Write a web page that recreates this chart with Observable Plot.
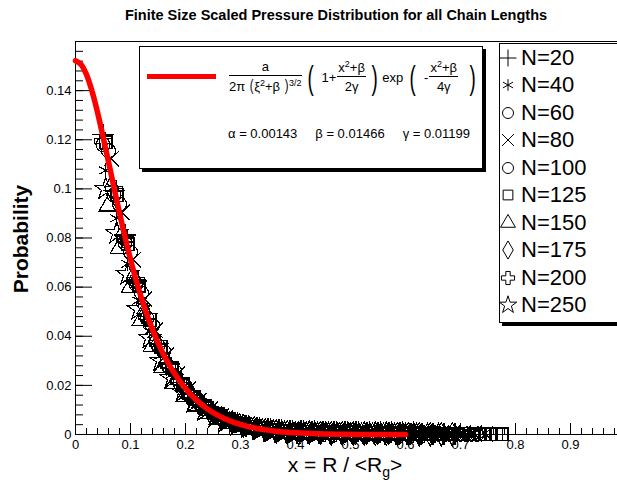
<!DOCTYPE html>
<html><head><meta charset="utf-8">
<script src="https://cdn.jsdelivr.net/npm/d3@7"></script>
<script src="https://cdn.jsdelivr.net/npm/@observablehq/plot@0.6"></script>
<style>
html,body{margin:0;padding:0;background:#fff;overflow:hidden}
#wrap{position:relative;width:617px;height:487px;overflow:hidden;font-family:"Liberation Sans",Arial,Helvetica,sans-serif;color:#000}
#chart{position:absolute;left:0;top:0;width:630px;height:487px}
#chart svg{max-width:none !important;width:630px;height:487px}
.abs{position:absolute;white-space:nowrap}
#title{left:0;width:672px;top:6px;text-align:center;font-weight:bold;font-size:14.5px;line-height:18px}
#ylab{left:21px;top:239px;transform:translate(-50%,-50%) rotate(-90deg);font-weight:bold;font-size:21px}
#xlab{left:345px;top:465px;transform:translate(-50%,-50%);font-size:21px}
#xlab sub{font-size:14px;vertical-align:-5px;line-height:0}
#fbox{left:139px;top:46px;width:344px;height:123px;box-sizing:border-box;border:1px solid #000;background:#fff;box-shadow:3px 3px 0 #000}
#fline{left:147px;top:74px;width:69px;height:5px;background:#ff0000}
#formula{left:228px;top:57px;height:40px;display:flex;align-items:center;font-size:13px}
#params{left:228px;top:126px;font-size:13px}
.frac{display:inline-flex;flex-direction:column;align-items:center;margin:0 1px}
.frac .num{border-bottom:1px solid #000;padding:0 1px 1px;line-height:14px;text-align:center;align-self:stretch}
.frac .den{padding-top:2px;line-height:15px}
.big{font-size:34px;line-height:34px;display:inline-block;transform:scaleX(0.55);margin:0 2px}
.bp{font-size:16px;display:inline-block;transform:scaleX(0.7)}
sup{font-size:9px;vertical-align:5px;line-height:0}
#lbox{left:499px;top:43px;width:200px;height:280px;box-sizing:border-box;border:1px solid #000;background:#fff;box-shadow:3px 3px 0 #000}
#legend{left:500px;top:44px}
#legend .lg-swatch{height:27.5px;padding:0 !important;display:flex;align-items:center}
#legend .lg-swatch > svg{margin-right:5px !important}
</style></head>
<body>
<div id="wrap">
  <div id="chart"></div>
  <div id="title" class="abs"></div>
  <div id="ylab" class="abs"></div>
  <div id="xlab" class="abs"></div>
  <div id="fbox" class="abs"></div>
  <div id="fline" class="abs"></div>
  <div id="formula" class="abs"></div>
  <div id="params" class="abs"></div>
  <div id="lbox" class="abs"></div>
  <div id="legend" class="abs"></div>
</div>
<script>
// ---------- data ----------
const titleText = "Finite Size Scaled Pressure Distribution for all Chain Lengths";
const yTitle = "Probability";
const seriesLabels = ["N=20","N=40","N=60","N=80","N=100","N=125","N=150","N=175","N=200","N=250"];
const seriesSymbols = ["plus","asterisk","circle","times","circle","square","triangle","diamond","cross","star"];
const paramNames = ["α","β","γ"];
const paramValues = ["0.00143","0.01466","0.01199"];

const xMajor = [0,0.1,0.2,0.3,0.4,0.5,0.6,0.7,0.8,0.9,1];
const xTickLabels = [0,0.1,0.2,0.3,0.4,0.5,0.6,0.7,0.8,0.9];
const yMajor = [0,0.02,0.04,0.06,0.08,0.1,0.12,0.14];

const xGridA = [0.05,0.07,0.09,0.11,0.13,0.15,0.17,0.19,0.21,0.23,0.25,0.27,0.29,0.31,0.33,0.35,0.37,0.39,0.41,0.43,0.45,0.47,0.49,0.51,0.53,0.55,0.57,0.59,0.61,0.63,0.65,0.67,0.69,0.71,0.73,0.75,0.77];
const xGridB = [0.055,0.075,0.095,0.115,0.135,0.155,0.175,0.195,0.215,0.235,0.255,0.275,0.295,0.315,0.335,0.355,0.375,0.395,0.415,0.435,0.455,0.475,0.495,0.515,0.535,0.555,0.575,0.595,0.615,0.635,0.655,0.675,0.695,0.715,0.735,0.755,0.775];
const xGridC = [0.06,0.08,0.10,0.12,0.14,0.16,0.18,0.20,0.22,0.24,0.26,0.28,0.30,0.32,0.34,0.36,0.38,0.40,0.42,0.44,0.46,0.48,0.50,0.52,0.54,0.56,0.58,0.60,0.62,0.64,0.66,0.68,0.70,0.72,0.74,0.76];
const xGridD = [0.065,0.085,0.105,0.125,0.145,0.165,0.185,0.205,0.225,0.245,0.265,0.285,0.305,0.325,0.345,0.365,0.385,0.405,0.425,0.445,0.465,0.485,0.505,0.525,0.545,0.565,0.585,0.605,0.625,0.645,0.665,0.685,0.705,0.725,0.745,0.765];
const xN125 = [0.055,0.075,0.095,0.115,0.135,0.155,0.175,0.195,0.215,0.235,0.255,0.275,0.295,0.315,0.335,0.355,0.375,0.395,0.415,0.435,0.455,0.475,0.495,0.515,0.535,0.555,0.575,0.595,0.605,0.615,0.625,0.635,0.645,0.655,0.665,0.675,0.685,0.695,0.705,0.715,0.725,0.735,0.745,0.755,0.765,0.775];

const yN20  = [0.1220,0.0995,0.0812,0.0625,0.0492,0.0370,0.0287,0.0213,0.0164,0.0120,0.0091,0.0066,0.0049,0.0035,0.0028,0.0022,0.0018,0.0015,0.0014,0.0012,0.0012,0.0010,0.0009,0.0009,0.0007,0.0007,0.0006,0.0005,0.0004,0.0004,0.0003,0.0002,0.0002];
const yN40  = [0.1075,0.0880,0.0695,0.0545,0.0420,0.0322,0.0243,0.0185,0.0139,0.0104,0.0077,0.0056,0.0041,0.0030,0.0021,0.0015,0.0010,0.0007,0.0006,0.0005,0.0005,0.0004,0.0004,0.0003,0.0003,0.0002,0.0002,0.0002,0.0001,0.0001,0.0001,0.0001,0.0001,0.0000];
const yN60  = [0.1155,0.0938,0.0742,0.0576,0.0444,0.0339,0.0258,0.0194,0.0146,0.0108,0.0080,0.0058,0.0043,0.0030,0.0022,0.0015,0.0010,0.0007,0.0008,0.0007,0.0006,0.0006,0.0005,0.0005,0.0004,0.0003,0.0003,0.0003,0.0002,0.0002,0.0001,0.0001,0.0001,0.0001];
const yN80  = [0.1122,0.0904,0.0712,0.0552,0.0424,0.0323,0.0245,0.0184,0.0138,0.0103,0.0075,0.0055,0.0039,0.0032,0.0025,0.0020,0.0018,0.0017,0.0016,0.0015,0.0014,0.0013,0.0012,0.0011,0.0010,0.0009,0.0008,0.0008,0.0007,0.0006,0.0006,0.0005,0.0004,0.0004,0.0003];
const yN100 = [0.1180,0.0975,0.0780,0.0612,0.0473,0.0362,0.0275,0.0209,0.0157,0.0118,0.0088,0.0065,0.0047,0.0034,0.0024,0.0017,0.0012,0.0008,0.0008,0.0008,0.0006,0.0006,0.0005,0.0004,0.0005,0.0003,0.0003,0.0003,0.0002,0.0002,0.0001,0.0001,0.0001,0.0001,0.0001];
const yN125 = [0.1190,0.0975,0.0775,0.0605,0.0466,0.0357,0.0270,0.0205,0.0154,0.0115,0.0085,0.0062,0.0045,0.0033,0.0023,0.0016,0.0013,0.0012,0.0012,0.0011,0.0010,0.0009,0.0009,0.0008,0.0007,0.0007,0.0006,0.0005,0.0005,0.0005,0.0004,0.0004,0.0004,0.0003,0.0003,0.0003,0.0003,0.0002,0.0002,0.0002,0.0002,0.0001,0.0001,0.0001,0.0001,0.0001];
const yN150 = [0.0932,0.0758,0.0599,0.0465,0.0359,0.0274,0.0208,0.0157,0.0118,0.0087,0.0065,0.0047,0.0034,0.0024,0.0018,0.0012,0.0008,0.0006,0.0005,0.0004,0.0004,0.0003,0.0003,0.0002,0.0002,0.0002,0.0001,0.0001,0.0001,0.0001,0.0000];
const yN175 = [0.1006,0.0810,0.0638,0.0495,0.0380,0.0290,0.0219,0.0165,0.0124,0.0092,0.0067,0.0049,0.0035,0.0026,0.0018,0.0012,0.0009,0.0006,0.0007,0.0006,0.0005,0.0005,0.0004,0.0004,0.0003,0.0003,0.0002,0.0002,0.0001,0.0001,0.0001,0.0001];
const yN200 = [0.1195,0.1000,0.0795,0.0628,0.0480,0.0371,0.0280,0.0214,0.0160,0.0121,0.0089,0.0066,0.0048,0.0034,0.0025,0.0017,0.0012,0.0008,0.0010,0.0008,0.0007,0.0007,0.0005,0.0005,0.0004,0.0003,0.0003,0.0002,0.0002,0.0001,0.0001];
const yN250 = [0.1000,0.0820,0.0652,0.0509,0.0393,0.0300,0.0228,0.0173,0.0130,0.0097,0.0071,0.0052,0.0038,0.0028,0.0019,0.0014,0.0010,0.0006,0.0005,0.0005,0.0004,0.0003,0.0003,0.0002,0.0002,0.0002,0.0001,0.0001,0.0001];

const curveX = [0,0.01,0.02,0.03,0.04,0.06,0.08,0.10,0.12,0.14,0.16,0.18,0.20,0.22,0.24,0.26,0.28,0.30,0.32,0.34,0.36,0.38,0.40,0.44,0.48,0.52,0.56,0.60];
const curveY = [0.1522,0.1507,0.1465,0.1398,0.1312,0.1110,0.0902,0.0713,0.0554,0.0427,0.0326,0.0248,0.0187,0.0140,0.0104,0.0077,0.0056,0.0041,0.0029,0.0021,0.0014,0.0010,0.0007,0.0003,0.00013,0.00005,0.00002,0.00001];

// ---------- build ----------
const seriesX = [xGridA,xGridB,xGridC,xGridD,xGridA,xN125,xGridC,xGridD,xGridA,xGridB];
const seriesY = [yN20,yN40,yN60,yN80,yN100,yN125,yN150,yN175,yN200,yN250];
const points = seriesLabels.flatMap((s,i)=>seriesY[i].map((y,j)=>({series:s,x:seriesX[i][j],y})));
const curve = curveX.map((x,i)=>({x,y:curveY[i]}));
const xMinor = d3.range(0,1.0001,0.02).map(v=>+v.toFixed(3));
const yMinor = d3.range(0,0.1601,0.004).map(v=>+v.toFixed(4));

const W = 630, H = 487, mL = 75, mR = 5, mT = 41, mB = 53;
const fw = W - mL - mR, fh = H - mT - mB;

const plot = Plot.plot({
  width: W, height: H,
  marginLeft: mL, marginRight: mR, marginTop: mT, marginBottom: mB,
  x: {domain: [0, 1]},
  y: {domain: [0, 0.16]},
  symbol: {domain: seriesLabels, range: seriesSymbols},
  style: {fontFamily: "'Liberation Sans', Arial, sans-serif", fontSize: "13px", background: "white", color: "black", overflow: "visible", maxWidth: "none"},
  marks: [
    Plot.frame({stroke: "black", strokeWidth: 1}),
    Plot.tickX(xMinor, {x: d => d, insetTop: fh - 6, stroke: "black"}),
    Plot.tickX(xMajor, {x: d => d, insetTop: fh - 11, stroke: "black"}),
    Plot.tickY(yMinor, {y: d => d, insetRight: fw - 8, stroke: "black"}),
    Plot.tickY(yMajor, {y: d => d, insetRight: fw - 17, stroke: "black"}),
    Plot.axisX(xTickLabels, {tickSize: 0, tickPadding: 5, label: null, tickFormat: d => String(d), fontSize: 13}),
    Plot.axisY(yMajor, {tickSize: 0, tickPadding: 4, label: null, tickFormat: d => String(d), fontSize: 13}),
    Plot.dot(points, {x: "x", y: "y", symbol: "series", stroke: "black", fill: "none", r: 7, strokeWidth: 1.2, shapeRendering: "crispEdges"}),
    Plot.line(curve, {x: "x", y: "y", stroke: "#ff0000", strokeWidth: 5.5, curve: "catmull-rom"})
  ]
});
document.getElementById("chart").appendChild(plot);

document.getElementById("title").textContent = titleText;
document.getElementById("ylab").textContent = yTitle;
document.getElementById("xlab").innerHTML = "x = R / &lt;R<sub>g</sub>&gt;";

document.getElementById("formula").innerHTML =
  '<span class="frac"><span class="num">a</span><span class="den">2π <span class="bp">(</span>ξ<sup>2</sup>+β <span class="bp">)</span><sup>3/2</sup></span></span>' +
  '<span class="big">(</span><span>&nbsp;1+</span><span class="frac"><span class="num">x<sup>2</sup>+β</span><span class="den">2γ</span></span><span class="big">)</span>' +
  '<span>exp</span><span class="big" style="margin-left:4px">(</span><span>&nbsp;-</span><span class="frac"><span class="num">x<sup>2</sup>+β</span><span class="den">4γ</span></span><span class="big" style="margin-left:8px">)</span>';

document.getElementById("params").innerHTML = paramNames.map((n,i)=>`${n} = ${paramValues[i]}`).join('<span style="display:inline-block;width:18px"></span>');

const legend = Plot.legend({
  symbol: {domain: seriesLabels, range: seriesSymbols},
  fill: "none", stroke: "black", strokeWidth: 1, r: 5.5,
  swatchSize: 16, columns: 1, className: "lg",
  style: {fontFamily: "'Liberation Sans', Arial, sans-serif", fontSize: "22px", margin: "0", color: "black"}
});
document.getElementById("legend").appendChild(legend);
</script>
</body></html>
